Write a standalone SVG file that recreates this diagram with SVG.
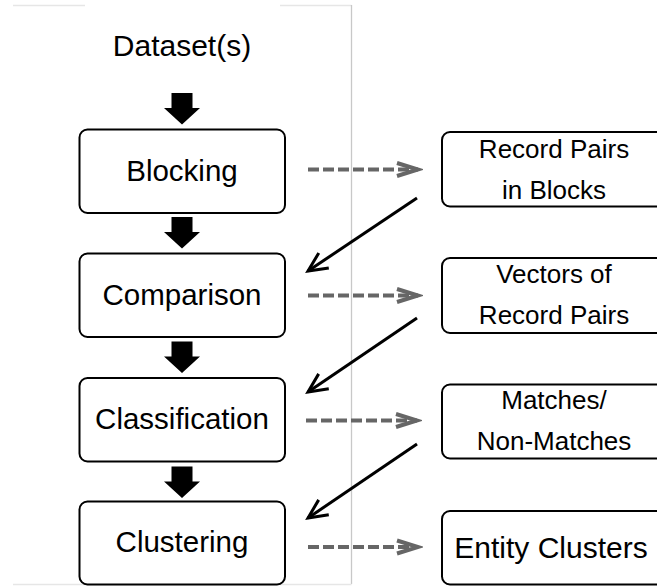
<svg xmlns="http://www.w3.org/2000/svg" width="657" height="588" viewBox="0 0 657 588">
<style>
  text { font-family: "Liberation Sans", Arial, sans-serif; fill: #000; text-anchor: middle; }
  .main { font-size: 29.5px; }
  .side { font-size: 26px; }
  .box { fill: #fff; stroke: #000; stroke-width: 2; }
  .block { fill: #000; }
  .dash { fill: none; stroke: #666; stroke-width: 4; stroke-dasharray: 11 4; }
  .feed { fill: none; stroke: #000; stroke-width: 3; }
  .frame { fill: none; stroke-width: 1.3; }
</style>
<defs>
  <marker id="chev-gray" markerUnits="userSpaceOnUse" markerWidth="28" markerHeight="20" viewBox="0 0 28 20" refX="23" refY="10" orient="auto">
    <path d="M2,3.5 L23,10 L2,16.5" fill="none" stroke="#666" stroke-width="4"/>
  </marker>
  <marker id="chev-black" markerUnits="userSpaceOnUse" markerWidth="28" markerHeight="24" viewBox="0 0 28 24" refX="23" refY="12" orient="auto">
    <path d="M4,3 L23,12 L4,21" fill="none" stroke="#000" stroke-width="3"/>
  </marker>
  <polygon id="blockarrow" points="171.5,0 192.5,0 192.5,15 200,15 182,31.5 164,15 171.5,15"/>
</defs>

<g id="frame">
  <line class="frame" x1="13" y1="5.5" x2="85" y2="5.5" stroke="#e6e6e6"/>
  <line class="frame" x1="280" y1="5.5" x2="351.5" y2="5.5" stroke="#e6e6e6"/>
  <line class="frame" x1="351.5" y1="5" x2="351.5" y2="584" stroke="#c8c8c8"/>
  <line class="frame" x1="13" y1="584.5" x2="351.5" y2="584.5" stroke="#e6e6e6"/>
</g>

<g id="dataset">
  <text class="main" x="182" y="56" style="font-size:30px">Dataset(s)</text>
</g>

<g id="connectors">
  <use href="#blockarrow" class="block" y="93"/>
  <use href="#blockarrow" class="block" y="217"/>
  <use href="#blockarrow" class="block" y="341.5"/>
  <use href="#blockarrow" class="block" y="466.5"/>

  <line class="dash" x1="308" y1="169.5" x2="418" y2="169.5" marker-end="url(#chev-gray)"/>
  <line class="dash" x1="308" y1="295.5" x2="418" y2="295.5" marker-end="url(#chev-gray)"/>
  <line class="dash" x1="306" y1="420.5" x2="417" y2="420.5" marker-end="url(#chev-gray)"/>
  <line class="dash" x1="308" y1="547" x2="418" y2="547" marker-end="url(#chev-gray)"/>

  <line class="feed" x1="417" y1="198" x2="308" y2="271" marker-end="url(#chev-black)"/>
  <line class="feed" x1="417" y1="318" x2="308" y2="392" marker-end="url(#chev-black)"/>
  <line class="feed" x1="417" y1="444" x2="308" y2="518" marker-end="url(#chev-black)"/>
</g>

<g id="blocking">
  <rect class="box" x="79.5" y="129.5" width="205.5" height="83.5" rx="8"/>
  <text class="main" x="182" y="180.5">Blocking</text>
</g>
<g id="comparison">
  <rect class="box" x="79.5" y="253.5" width="205.5" height="83.5" rx="8"/>
  <text class="main" x="182" y="304.5">Comparison</text>
</g>
<g id="classification">
  <rect class="box" x="79.5" y="378" width="205.5" height="83.5" rx="8"/>
  <text class="main" x="182" y="428.5">Classification</text>
</g>
<g id="clustering">
  <rect class="box" x="79.5" y="501.5" width="205.5" height="83" rx="8"/>
  <text class="main" x="182" y="552">Clustering</text>
</g>

<g id="record-pairs">
  <rect class="box" x="442" y="132" width="226" height="74.5" rx="8"/>
  <text class="side" x="554" y="157.5">Record Pairs</text>
  <text class="side" x="554" y="198.5">in Blocks</text>
</g>
<g id="vectors">
  <rect class="box" x="442" y="258" width="226" height="75" rx="8"/>
  <text class="side" x="554" y="282.5">Vectors of</text>
  <text class="side" x="554" y="323.5">Record Pairs</text>
</g>
<g id="matches">
  <rect class="box" x="442" y="384.5" width="226" height="74" rx="8"/>
  <text class="side" x="554" y="409">Matches/</text>
  <text class="side" x="554" y="450">Non-Matches</text>
</g>
<g id="entity-clusters">
  <rect class="box" x="442" y="511" width="226" height="73.5" rx="8"/>
  <text class="main" x="551" y="557.5" style="font-size:30px">Entity Clusters</text>
</g>
</svg>
